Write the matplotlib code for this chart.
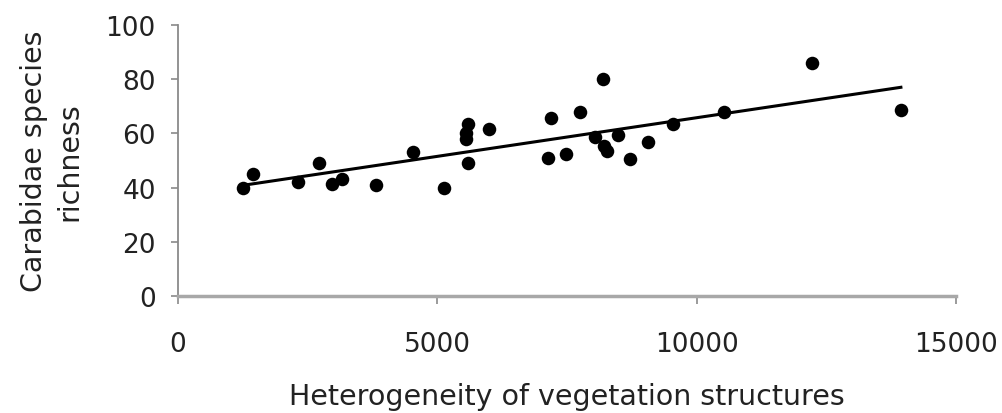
import numpy as np
import matplotlib.pyplot as plt

# Heterogeneity of vegetation structures vs. Carabidae species richness
heterogeneity = [1250, 1450, 2320, 2720, 2970, 3170, 3820, 4540, 5120,
                 5560, 5600, 5560, 5600, 5990, 7140, 7200, 7490, 7760,
                 8050, 8200, 8210, 8280, 8490, 8710, 9070, 9540,
                 10520, 12230, 13940]
richness = [40, 45, 42, 49, 41.5, 43, 41, 53, 40,
            60, 63.5, 58, 49, 61.5, 51, 65.5, 52.5, 68,
            58.5, 80, 55.5, 53.5, 59.5, 50.5, 57, 63.5,
            68, 86, 68.5]

x = np.array(heterogeneity, dtype=float)
y = np.array(richness, dtype=float)

# linear trend over the observed range
slope, intercept = np.polyfit(x, y, 1)
xs = np.array([x.min(), x.max()])

plt.rcParams['font.family'] = ['DejaVu Sans']

fig = plt.figure(figsize=(10.03, 4.14), dpi=100)
ax = fig.add_axes([0.1775, 0.2826, 0.7755, 0.6546])

ax.scatter(x, y, s=95, color='black', zorder=3, linewidths=0)
ax.plot(xs, slope * xs + intercept, color='black', lw=2.2, zorder=2)

ax.set_xlim(0, 15000)
ax.set_ylim(0, 100)
ax.set_xticks([0, 5000, 10000, 15000])
ax.set_yticks([0, 20, 40, 60, 80, 100])

for side in ['top', 'right']:
    ax.spines[side].set_visible(False)
ax.spines['left'].set_color('#8a8a8a')
ax.spines['left'].set_linewidth(1.3)
ax.spines['bottom'].set_color('#a8a8a8')
ax.spines['bottom'].set_linewidth(2.5)

ax.tick_params(axis='y', length=5, width=1.2, color='#8a8a8a', pad=11,
               labelsize=19, labelcolor='#222222')
ax.tick_params(axis='x', length=6, width=1.2, color='#8a8a8a', pad=19,
               labelsize=19, labelcolor='#222222')

ax.set_xlabel('Heterogeneity of vegetation structures', fontsize=20.5,
              color='#222222', labelpad=18)
ax.set_ylabel('Carabidae species\nrichness', fontsize=20.5, color='#222222',
              labelpad=16, linespacing=1.35)

fig.savefig('out.png', dpi=100)
